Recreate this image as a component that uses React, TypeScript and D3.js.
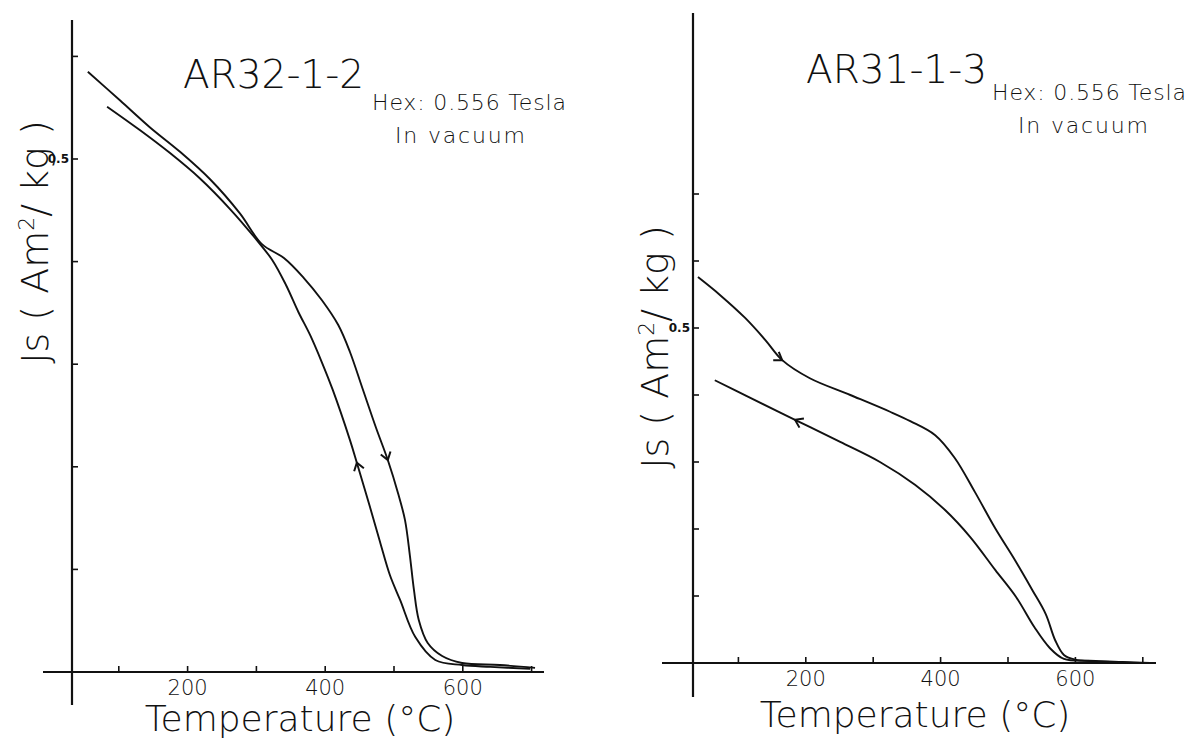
import React, { useEffect, useRef } from 'react';
import * as d3 from 'd3';

// AR32-1-2 : heating and cooling runs (temperature in deg C, Js in Am2/kg)
const leftHeatT = [55, 102, 145, 189, 233, 276, 308, 340, 369, 395, 419, 436, 454, 474, 491, 506, 516, 523, 529, 536, 549, 570, 599, 654, 705];
const leftHeatJ = [0.585, 0.557, 0.531, 0.507, 0.48, 0.447, 0.417, 0.4035, 0.384, 0.3626, 0.3382, 0.3119, 0.2768, 0.2378, 0.2066, 0.174, 0.148, 0.114, 0.08, 0.0507, 0.0283, 0.0156, 0.0088, 0.0068, 0.004];
const leftCoolT = [83, 131, 174, 218, 262, 298, 323, 343, 361, 378, 395, 411, 436, 446, 465, 480, 494, 509, 531, 560, 599, 640, 698];
const leftCoolJ = [0.551, 0.528, 0.506, 0.481, 0.451, 0.423, 0.4016, 0.3772, 0.3509, 0.3285, 0.3021, 0.2749, 0.226, 0.204, 0.161, 0.126, 0.0945, 0.07, 0.034, 0.0117, 0.0068, 0.005, 0.003];

// AR31-1-3
const rightHeatT = [40, 73, 110, 140, 165, 206, 266, 325, 355, 392, 421, 451, 481, 510, 536, 556, 570, 583, 600, 630, 670, 711];
const rightHeatJ = [0.576, 0.549, 0.515, 0.482, 0.452, 0.425, 0.4, 0.375, 0.361, 0.34, 0.306, 0.255, 0.201, 0.154, 0.109, 0.073, 0.034, 0.012, 0.005, 0.003, 0.0015, 0];
const rightCoolT = [65, 117, 184, 251, 310, 362, 407, 444, 481, 512, 539, 562, 583, 622, 696];
const rightCoolJ = [0.422, 0.396, 0.363, 0.33, 0.3, 0.266, 0.228, 0.188, 0.139, 0.0985, 0.0537, 0.0224, 0.006, 0.003, 0];

const xTicks = [100, 200, 300, 400, 500, 600, 700];
const xTickLabels = [200, 400, 600];
const leftYTicks = [0.1, 0.2, 0.3, 0.4, 0.5, 0.6];
const rightYTicks = [0.1, 0.2, 0.3, 0.4, 0.5, 0.6, 0.7];
const yTickLabels = [0.5];

// arrow marks on the curves: +1 heating direction, -1 cooling direction
const leftArrows = [{ series: 'heat', t: 491, dir: 1 }, { series: 'cool', t: 446, dir: -1 }];
const rightArrows = [{ series: 'heat', t: 165, dir: 1 }, { series: 'cool', t: 184, dir: -1 }];

const panels = [
  {
    title: 'AR32-1-2', titleX: 183, titleY: 88,
    noteX: 372, noteY: 110, vacX: 395,
    xRange: [50, 531.6], yRange: [672, 56.4], yDomain: [0, 0.6],
    axisX: 72, axisTop: 20, axisBottom: 705, xAxisLeft: 43, xAxisRight: 544,
    yTicks: leftYTicks, heat: [leftHeatT, leftHeatJ], cool: [leftCoolT, leftCoolJ], arrows: leftArrows,
    yLabelX: 48, yLabelY: 242, xLabelX: 300, xLabelY: 731,
  },
  {
    title: 'AR31-1-3', titleX: 806, titleY: 83,
    noteX: 992, noteY: 100, vacX: 1018,
    xRange: [671, 1142.8], yRange: [663, 194], yDomain: [0, 0.7],
    axisX: 693, axisTop: 13, axisBottom: 697, xAxisLeft: 662, xAxisRight: 1156,
    yTicks: rightYTicks, heat: [rightHeatT, rightHeatJ], cool: [rightCoolT, rightCoolJ], arrows: rightArrows,
    yLabelX: 668, yLabelY: 347, xLabelX: 915, xLabelY: 727,
  },
];

const FONT = '"DejaVu Sans", sans-serif';

export default function App() {
  const svgRef = useRef<SVGSVGElement>(null);

  useEffect(() => {
    if (!svgRef.current) return;
    const svg = d3.select(svgRef.current);
    svg.selectAll('*').remove();

    svg.append('rect').attr('width', 1192).attr('height', 740).attr('fill', '#fff');

    panels.forEach(p => {
      const x = d3.scaleLinear().domain([0, 700]).range(p.xRange);
      const y = d3.scaleLinear().domain(p.yDomain).range(p.yRange);
      const g = svg.append('g');

      // axes, drawn by hand like the original plot
      g.append('line')
        .attr('x1', p.axisX).attr('x2', p.axisX)
        .attr('y1', p.axisTop).attr('y2', p.axisBottom)
        .attr('stroke', '#111').attr('stroke-width', 2.2);
      g.append('line')
        .attr('x1', p.xAxisLeft).attr('x2', p.xAxisRight)
        .attr('y1', y(0)).attr('y2', y(0))
        .attr('stroke', '#111').attr('stroke-width', 2.2);

      g.selectAll('.xt').data(xTicks).enter().append('line')
        .attr('x1', d => x(d)).attr('x2', d => x(d))
        .attr('y1', y(0)).attr('y2', y(0) - 6)
        .attr('stroke', '#111').attr('stroke-width', 1.6);
      g.selectAll('.xl').data(xTickLabels).enter().append('text')
        .attr('x', d => x(d)).attr('y', y(0) + 23)
        .attr('text-anchor', 'middle')
        .style('font-family', FONT).style('font-size', '21px').style('font-weight', 200)
        .attr('fill', '#111')
        .text(d => d);

      g.selectAll('.yt').data(p.yTicks).enter().append('line')
        .attr('x1', p.axisX).attr('x2', p.axisX + 6)
        .attr('y1', d => y(d)).attr('y2', d => y(d))
        .attr('stroke', '#111').attr('stroke-width', 1.6);
      g.selectAll('.yl').data(yTickLabels).enter().append('text')
        .attr('x', p.axisX - 3).attr('y', d => y(d) + 4)
        .attr('text-anchor', 'end')
        .style('font-family', FONT).style('font-size', '12px').style('font-weight', 'bold')
        .attr('fill', '#111')
        .text(d => d);

      // curves
      const line = d3.line<[number, number]>()
        .x(d => x(d[0])).y(d => y(d[1]))
        .curve(d3.curveCatmullRom.alpha(0.5));
      const series: Record<string, [number, number][]> = {
        heat: p.heat[0].map((t, i) => [t, p.heat[1][i]] as [number, number]),
        cool: p.cool[0].map((t, i) => [t, p.cool[1][i]] as [number, number]),
      };
      Object.values(series).forEach(pts => {
        g.append('path').attr('d', line(pts))
          .attr('fill', 'none').attr('stroke', '#111').attr('stroke-width', 1.9);
      });

      // direction chevrons
      p.arrows.forEach(a => {
        const pts = series[a.series];
        const interp = (t: number) => {
          const i = Math.max(1, Math.min(pts.length - 1, d3.bisector((d: [number, number]) => d[0]).left(pts, t)));
          const [t0, j0] = pts[i - 1];
          const [t1, j1] = pts[i];
          const k = (t - t0) / (t1 - t0);
          return [x(t), y(j0 + k * (j1 - j0))];
        };
        const [px, py] = interp(a.t);
        const [qx, qy] = interp(a.t + a.dir * 6);
        const ang = Math.atan2(qy - py, qx - px);
        const len = 9;
        const spread = 0.6;
        const b1 = [px - len * Math.cos(ang - spread), py - len * Math.sin(ang - spread)];
        const b2 = [px - len * Math.cos(ang + spread), py - len * Math.sin(ang + spread)];
        g.append('path')
          .attr('d', `M${b1[0]},${b1[1]}L${px},${py}L${b2[0]},${b2[1]}`)
          .attr('fill', 'none').attr('stroke', '#111').attr('stroke-width', 2);
      });

      // texts
      g.append('text')
        .attr('x', p.titleX).attr('y', p.titleY)
        .style('font-family', FONT).style('font-size', '39px').style('font-weight', 200)
        .attr('fill', '#111')
        .text(p.title);
      g.append('text')
        .attr('x', p.noteX).attr('y', p.noteY)
        .attr('textLength', 194).attr('lengthAdjust', 'spacing')
        .style('font-family', FONT).style('font-size', '22px').style('font-weight', 200)
        .attr('fill', '#111')
        .text('Hex: 0.556 Tesla');
      g.append('text')
        .attr('x', p.vacX).attr('y', p.noteY + 33)
        .attr('textLength', 130).attr('lengthAdjust', 'spacing')
        .style('font-family', FONT).style('font-size', '22px').style('font-weight', 200)
        .attr('fill', '#111')
        .text('In vacuum');

      const yl = g.append('text')
        .attr('transform', `translate(${p.yLabelX},${p.yLabelY}) rotate(-90)`)
        .attr('text-anchor', 'middle')
        .style('font-family', FONT).style('font-size', '38px').style('font-weight', 200)
        .attr('fill', '#111');
      yl.append('tspan').text('Js ( Am');
      yl.append('tspan').attr('dy', -14).style('font-size', '22px').text('2');
      yl.append('tspan').attr('dy', 14).text('/ kg )');

      g.append('text')
        .attr('x', p.xLabelX).attr('y', p.xLabelY)
        .attr('text-anchor', 'middle')
        .style('font-family', FONT).style('font-size', '36px').style('font-weight', 200)
        .attr('fill', '#111')
        .text('Temperature (°C)');
    });
  }, []);

  return (
    <svg ref={svgRef} width={1192} height={740} style={{ display: 'block', position: 'absolute', left: 0, top: 0 }} />
  );
}
